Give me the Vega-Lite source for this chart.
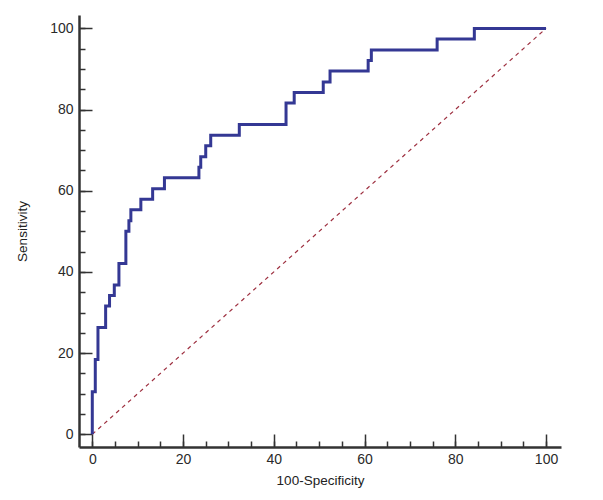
{
  "$schema": "https://vega.github.io/schema/vega-lite/v6.json",
  "autosize": "none",
  "width": 482,
  "height": 432,
  "padding": {"left": 79, "top": 15, "right": 42, "bottom": 53},
  "background": "white",
  "config": {
    "view": {"stroke": null},
    "axis": {
      "grid": false,
      "labelFont": "Liberation Sans",
      "titleFont": "Liberation Sans",
      "labelFontSize": 14,
      "titleFontSize": 13.5,
      "titleFontWeight": "normal",
      "labelColor": "#2a2a2a",
      "titleColor": "#222222",
      "domainColor": "#333333",
      "domainWidth": 2.5,
      "tickColor": "#333333",
      "tickWidth": 1.5
    }
  },
  "datasets": {
    "roc": [
      {"i": 0, "fpr": 0, "sens": 0},
      {"i": 1, "fpr": 0, "sens": 10.5},
      {"i": 2, "fpr": 0.66, "sens": 18.4},
      {"i": 3, "fpr": 1.25, "sens": 26.3},
      {"i": 4, "fpr": 2.94, "sens": 31.6},
      {"i": 5, "fpr": 3.8, "sens": 34.2},
      {"i": 6, "fpr": 4.85, "sens": 36.8},
      {"i": 7, "fpr": 5.87, "sens": 42.1},
      {"i": 8, "fpr": 7.4, "sens": 50.0},
      {"i": 9, "fpr": 8.07, "sens": 52.6},
      {"i": 10, "fpr": 8.5, "sens": 55.3},
      {"i": 11, "fpr": 10.7, "sens": 57.9},
      {"i": 12, "fpr": 13.3, "sens": 60.5},
      {"i": 13, "fpr": 15.9, "sens": 63.2},
      {"i": 14, "fpr": 23.5, "sens": 65.8},
      {"i": 15, "fpr": 23.9, "sens": 68.4},
      {"i": 16, "fpr": 25.0, "sens": 71.1},
      {"i": 17, "fpr": 26.1, "sens": 73.7},
      {"i": 18, "fpr": 32.4, "sens": 76.3},
      {"i": 19, "fpr": 42.7, "sens": 81.6},
      {"i": 20, "fpr": 44.5, "sens": 84.2},
      {"i": 21, "fpr": 50.9, "sens": 86.8},
      {"i": 22, "fpr": 52.4, "sens": 89.5},
      {"i": 23, "fpr": 60.8, "sens": 92.1},
      {"i": 24, "fpr": 61.5, "sens": 94.7},
      {"i": 25, "fpr": 76.0, "sens": 97.4},
      {"i": 26, "fpr": 84.2, "sens": 100},
      {"i": 27, "fpr": 100, "sens": 100}
    ],
    "diag": [
      {"i": 0, "fpr": 0, "sens": 0},
      {"i": 1, "fpr": 100, "sens": 100}
    ]
  },
  "layer": [
    {
      "data": {"name": "diag"},
      "mark": {"type": "line", "color": "#9e3040", "strokeWidth": 1.2, "strokeDash": [4, 4], "clip": false},
      "encoding": {
        "x": {
          "field": "fpr", "type": "quantitative",
          "scale": {"domain": [-2.93, 103.3], "nice": false, "zero": false},
          "axis": {"orient": "bottom", "values": [0,5,10,15,20,25,30,35,40,45,50,55,60,65,70,75,80,85,90,95,100], "tickSize": -6, "labels": false, "domain": false, "title": null}
        },
        "y": {
          "field": "sens", "type": "quantitative",
          "scale": {"domain": [-3.13, 103.3], "nice": false, "zero": false},
          "axis": {"orient": "left", "values": [0,5,10,15,20,25,30,35,40,45,50,55,60,65,70,75,80,85,90,95,100], "tickSize": -6, "labels": false, "domain": false, "title": null}
        },
        "order": {"field": "i"}
      }
    },
    {
      "data": {"name": "roc"},
      "mark": {"type": "line", "color": "#343894", "strokeWidth": 3, "interpolate": "step-after", "clip": false},
      "encoding": {
        "x": {
          "field": "fpr", "type": "quantitative",
          "axis": {"orient": "bottom", "values": [0,20,40,60,80,100], "tickSize": -13, "labelPadding": 18, "title": "100-Specificity", "titlePadding": 7}
        },
        "y": {
          "field": "sens", "type": "quantitative",
          "axis": {"orient": "left", "values": [0,20,40,60,80,100], "tickSize": -13, "labelPadding": 19, "title": "Sensitivity", "titlePadding": 20}
        },
        "order": {"field": "i"}
      }
    }
  ],
  "resolve": {"axis": {"x": "independent", "y": "independent"}}
}
